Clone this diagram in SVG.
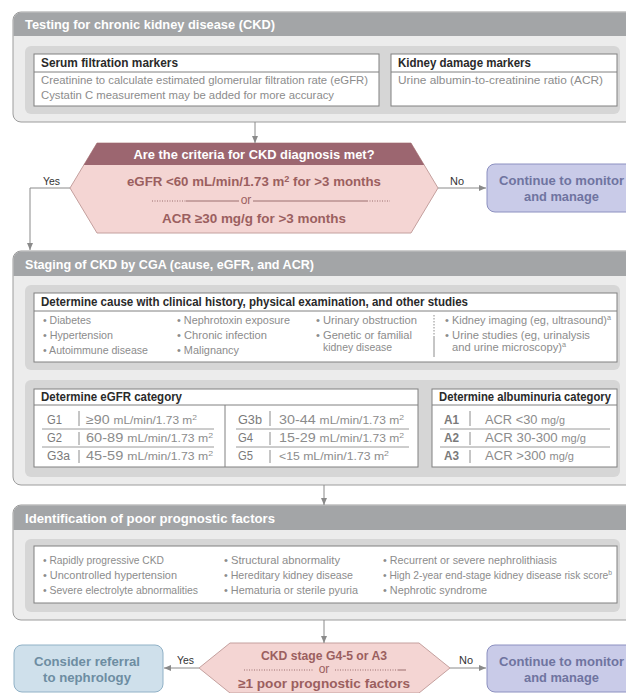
<svg xmlns="http://www.w3.org/2000/svg" width="626" height="693" viewBox="0 0 626 693">
<defs>
<marker id="ah" markerUnits="userSpaceOnUse" markerWidth="7" markerHeight="6" refX="7" refY="3" orient="auto"><path d="M0,0 L7,3 L0,6 z" fill="#8a8a8a"/></marker>
</defs>
<style>
text{font-family:"Liberation Sans","DejaVu Sans Condensed",Arial,sans-serif}
.outer{fill:#ececec;stroke:#9c9c9c;stroke-width:1}
.hdr{fill:#a3a5a7}
.ttl{fill:#fff;font-weight:bold;font-size:13.5px}
.panel{fill:#d6d6d6}
.wbox{fill:#fff;stroke:#808080;stroke-width:1}
.hl{stroke:#808080;stroke-width:1}
.bh{fill:#2a2a2a;font-weight:bold;font-size:12px}
.it{fill:#8c8c8c;font-size:11.5px}
.lab{fill:#7a7a7a;font-size:12.5px}
.val{fill:#8c8c8c;font-size:12.5px}
.sm{font-size:10.5px}
.sep{stroke:#8c8c8c;stroke-width:1}
.rl{stroke:#9a9a9a;stroke-width:1}
.con{stroke:#8a8a8a;stroke-width:1;fill:none}
.cl{fill:#333;font-size:11.5px}
.dia{fill:#f4d5d3;stroke:#c4a09e;stroke-width:1}
.dhdr{fill:#9c6670}
.dht{fill:#fff;font-weight:bold;font-size:13px}
.dt{fill:#9b5f5f;font-weight:bold;font-size:13px}
.ort{fill:#9b5f5f;font-size:12px}
.dot{stroke:#9b6f6f;stroke-width:1;stroke-dasharray:1,1.5}
.sol{stroke:#9b6f6f;stroke-width:1}
.cont{fill:#c9cbe8;stroke:#8c90c0;stroke-width:1}
.contt{fill:#6f74a0;font-weight:bold;font-size:13.5px}
.ref{fill:#cfe0eb;stroke:#90b1c6;stroke-width:1}
.reft{fill:#6d8da2;font-weight:bold;font-size:13.5px}
</style>

<g id="testing">
<rect class="outer" x="13" y="12" width="660" height="110" rx="8"/>
<path class="hdr" d="M13.5,36 V20 a7.5,7.5 0 0 1 7.5,-7.5 H660 V36 Z"/>
<text class="ttl" x="25" y="29" textLength="250" lengthAdjust="spacingAndGlyphs">Testing for chronic kidney disease (CKD)</text>
<rect class="panel" x="25" y="46" width="595" height="68" rx="6"/>
<g id="serum">
<rect class="wbox" x="34" y="54" width="345" height="52"/>
<line class="hl" x1="34" y1="72" x2="379" y2="72"/>
<text class="bh" x="41" y="67" textLength="137" lengthAdjust="spacingAndGlyphs">Serum filtration markers</text>
<text class="it" x="41" y="84" textLength="327" lengthAdjust="spacingAndGlyphs">Creatinine to calculate estimated glomerular filtration rate (eGFR)</text>
<text class="it" x="41" y="99" textLength="293" lengthAdjust="spacingAndGlyphs">Cystatin C measurement may be added for more accuracy</text>
</g>
<g id="damage">
<rect class="wbox" x="391" y="54" width="226" height="52"/>
<line class="hl" x1="391" y1="72" x2="617" y2="72"/>
<text class="bh" x="398" y="67" textLength="133" lengthAdjust="spacingAndGlyphs">Kidney damage markers</text>
<text class="it" x="398" y="84" textLength="205" lengthAdjust="spacingAndGlyphs">Urine albumin-to-creatinine ratio (ACR)</text>
</g>
</g>

<g id="criteria">
<polygon class="dia" points="97,143 411,143 438,188 411,233 97,233 70,188"/>
<polygon class="dhdr" points="97,143 411,143 424.2,165 83.8,165"/>
<text class="dht" x="254" y="159" text-anchor="middle" textLength="241" lengthAdjust="spacingAndGlyphs">Are the criteria for CKD diagnosis met?</text>
<text class="dt" x="254" y="186" text-anchor="middle" textLength="254" lengthAdjust="spacingAndGlyphs">eGFR &lt;60 mL/min/1.73 m<tspan font-size="9" dy="-4">2</tspan><tspan dy="4"> for &gt;3 months</tspan></text>
<line class="dot" x1="152" y1="201" x2="186" y2="201"/>
<line class="sol" x1="186" y1="201" x2="239" y2="201"/>
<text class="ort" x="246" y="204" text-anchor="middle">or</text>
<line class="sol" x1="253" y1="201" x2="367" y2="201"/>
<line class="dot" x1="367" y1="201" x2="390" y2="201"/>
<text class="dt" x="254" y="223" text-anchor="middle" textLength="184" lengthAdjust="spacingAndGlyphs">ACR ≥30 mg/g for &gt;3 months</text>
</g>

<g id="monitor1">
<rect class="cont" x="487" y="164" width="150" height="48" rx="8"/>
<text class="contt" x="561.5" y="185" text-anchor="middle" textLength="125" lengthAdjust="spacingAndGlyphs">Continue to monitor</text>
<text class="contt" x="561.5" y="201" text-anchor="middle" textLength="75" lengthAdjust="spacingAndGlyphs">and manage</text>
</g>

<g id="staging">
<rect class="outer" x="13" y="251" width="660" height="234" rx="8"/>
<path class="hdr" d="M13.5,276 V259 a7.5,7.5 0 0 1 7.5,-7.5 H660 V276 Z"/>
<text class="ttl" x="25" y="269" textLength="289" lengthAdjust="spacingAndGlyphs">Staging of CKD by CGA (cause, eGFR, and ACR)</text>
<rect class="panel" x="25" y="285" width="595" height="85" rx="6"/>
<g id="cause">
<rect class="wbox" x="34" y="293" width="583" height="69"/>
<line class="hl" x1="34" y1="311" x2="617" y2="311"/>
<text class="bh" x="41" y="306" textLength="427" lengthAdjust="spacingAndGlyphs">Determine cause with clinical history, physical examination, and other studies</text>
<text class="it" x="43" y="324" textLength="48" lengthAdjust="spacingAndGlyphs">• Diabetes</text>
<text class="it" x="43" y="339" textLength="70" lengthAdjust="spacingAndGlyphs">• Hypertension</text>
<text class="it" x="43" y="354" textLength="105" lengthAdjust="spacingAndGlyphs">• Autoimmune disease</text>
<text class="it" x="177" y="324" textLength="113" lengthAdjust="spacingAndGlyphs">• Nephrotoxin exposure</text>
<text class="it" x="177" y="339" textLength="90" lengthAdjust="spacingAndGlyphs">• Chronic infection</text>
<text class="it" x="177" y="354" textLength="62" lengthAdjust="spacingAndGlyphs">• Malignancy</text>
<text class="it" x="316" y="324" textLength="101" lengthAdjust="spacingAndGlyphs">• Urinary obstruction</text>
<text class="it" x="316" y="339" textLength="96" lengthAdjust="spacingAndGlyphs">• Genetic or familial</text>
<text class="it" x="323" y="351" textLength="69" lengthAdjust="spacingAndGlyphs">kidney disease</text>
<line class="sep" x1="434" y1="315" x2="434" y2="336" stroke-dasharray="1.5,1.5"/>
<line class="sep" x1="434" y1="336" x2="434" y2="357"/>
<text class="it" x="445" y="324" textLength="166" lengthAdjust="spacingAndGlyphs">• Kidney imaging (eg, ultrasound)<tspan font-size="7.5" dy="-4">a</tspan></text>
<text class="it" x="445" y="339" textLength="145" lengthAdjust="spacingAndGlyphs">• Urine studies (eg, urinalysis</text>
<text class="it" x="452" y="351" textLength="114" lengthAdjust="spacingAndGlyphs">and urine microscopy)<tspan font-size="7.5" dy="-4">a</tspan></text>
</g>
<rect class="panel" x="25" y="380" width="595" height="97" rx="6"/>
<g id="egfr">
<rect class="wbox" x="34" y="389" width="384" height="78"/>
<line class="hl" x1="34" y1="405" x2="418" y2="405"/>
<line class="hl" x1="225" y1="405" x2="225" y2="467"/>
<text class="bh" x="41" y="401" textLength="141" lengthAdjust="spacingAndGlyphs">Determine eGFR category</text>
<line class="rl" x1="42" y1="429" x2="214" y2="429"/>
<line class="rl" x1="42" y1="447" x2="214" y2="447"/>
<line class="rl" x1="236" y1="429" x2="409" y2="429"/>
<line class="rl" x1="236" y1="447" x2="409" y2="447"/>
<line class="sep" x1="79" y1="411" x2="79" y2="426"/>
<line class="sep" x1="79" y1="432" x2="79" y2="445"/>
<line class="sep" x1="79" y1="450" x2="79" y2="463"/>
<line class="sep" x1="270" y1="411" x2="270" y2="426"/>
<line class="sep" x1="270" y1="432" x2="270" y2="445"/>
<line class="sep" x1="270" y1="450" x2="270" y2="463"/>
<text class="lab" x="47" y="424" textLength="15" lengthAdjust="spacingAndGlyphs">G1</text>
<text class="lab" x="47" y="442" textLength="15" lengthAdjust="spacingAndGlyphs">G2</text>
<text class="lab" x="47" y="460" textLength="23" lengthAdjust="spacingAndGlyphs">G3a</text>
<text class="val" x="86" y="424" textLength="111" lengthAdjust="spacingAndGlyphs">≥90 <tspan class="sm">mL/min/1.73 m<tspan font-size="7.5" dy="-4">2</tspan></tspan></text>
<text class="val" x="86" y="442" textLength="127" lengthAdjust="spacingAndGlyphs">60-89 <tspan class="sm">mL/min/1.73 m<tspan font-size="7.5" dy="-4">2</tspan></tspan></text>
<text class="val" x="86" y="460" textLength="127" lengthAdjust="spacingAndGlyphs">45-59 <tspan class="sm">mL/min/1.73 m<tspan font-size="7.5" dy="-4">2</tspan></tspan></text>
<text class="lab" x="238" y="424" textLength="24" lengthAdjust="spacingAndGlyphs">G3b</text>
<text class="lab" x="238" y="442" textLength="15" lengthAdjust="spacingAndGlyphs">G4</text>
<text class="lab" x="238" y="460" textLength="15" lengthAdjust="spacingAndGlyphs">G5</text>
<text class="val" x="279" y="424" textLength="125" lengthAdjust="spacingAndGlyphs">30-44 <tspan class="sm">mL/min/1.73 m<tspan font-size="7.5" dy="-4">2</tspan></tspan></text>
<text class="val" x="279" y="442" textLength="125" lengthAdjust="spacingAndGlyphs">15-29 <tspan class="sm">mL/min/1.73 m<tspan font-size="7.5" dy="-4">2</tspan></tspan></text>
<text class="val" x="279" y="460" textLength="110" lengthAdjust="spacingAndGlyphs"><tspan class="sm">&lt;15 mL/min/1.73 m<tspan font-size="7.5" dy="-4">2</tspan></tspan></text>
</g>
<g id="albuminuria">
<rect class="wbox" x="432" y="389" width="185" height="78"/>
<line class="hl" x1="432" y1="405" x2="617" y2="405"/>
<text class="bh" x="439" y="401" textLength="172" lengthAdjust="spacingAndGlyphs">Determine albuminuria category</text>
<line class="rl" x1="440" y1="429" x2="610" y2="429"/>
<line class="rl" x1="440" y1="447" x2="610" y2="447"/>
<line class="sep" x1="470" y1="411" x2="470" y2="426"/>
<line class="sep" x1="470" y1="432" x2="470" y2="445"/>
<line class="sep" x1="470" y1="450" x2="470" y2="463"/>
<text class="lab" x="444" y="424" font-weight="bold" textLength="15" lengthAdjust="spacingAndGlyphs">A1</text>
<text class="lab" x="444" y="442" font-weight="bold" textLength="15" lengthAdjust="spacingAndGlyphs">A2</text>
<text class="lab" x="444" y="460" font-weight="bold" textLength="15" lengthAdjust="spacingAndGlyphs">A3</text>
<text class="val" x="485" y="424" textLength="80" lengthAdjust="spacingAndGlyphs">ACR &lt;30 <tspan class="sm">mg/g</tspan></text>
<text class="val" x="485" y="442" textLength="101" lengthAdjust="spacingAndGlyphs">ACR 30-300 <tspan class="sm">mg/g</tspan></text>
<text class="val" x="485" y="460" textLength="89" lengthAdjust="spacingAndGlyphs">ACR &gt;300 <tspan class="sm">mg/g</tspan></text>
</g>
</g>

<g id="prognostic">
<rect class="outer" x="13" y="505" width="660" height="115" rx="8"/>
<path class="hdr" d="M13.5,530 V513 a7.5,7.5 0 0 1 7.5,-7.5 H660 V530 Z"/>
<text class="ttl" x="25" y="523" textLength="250" lengthAdjust="spacingAndGlyphs">Identification of poor prognostic factors</text>
<rect class="panel" x="25" y="539" width="595" height="73" rx="6"/>
<rect class="wbox" x="34" y="546" width="583" height="57"/>
<text class="it" x="43" y="564" textLength="121" lengthAdjust="spacingAndGlyphs">• Rapidly progressive CKD</text>
<text class="it" x="43" y="579" textLength="134" lengthAdjust="spacingAndGlyphs">• Uncontrolled hypertension</text>
<text class="it" x="43" y="594" textLength="155" lengthAdjust="spacingAndGlyphs">• Severe electrolyte abnormalities</text>
<text class="it" x="224" y="564" textLength="116" lengthAdjust="spacingAndGlyphs">• Structural abnormality</text>
<text class="it" x="224" y="579" textLength="129" lengthAdjust="spacingAndGlyphs">• Hereditary kidney disease</text>
<text class="it" x="224" y="594" textLength="134" lengthAdjust="spacingAndGlyphs">• Hematuria or sterile pyuria</text>
<text class="it" x="383" y="564" textLength="174" lengthAdjust="spacingAndGlyphs">• Recurrent or severe nephrolithiasis</text>
<text class="it" x="383" y="579" textLength="229" lengthAdjust="spacingAndGlyphs">• High 2-year end-stage kidney disease risk score<tspan font-size="7.5" dy="-4">b</tspan></text>
<text class="it" x="383" y="594" textLength="104" lengthAdjust="spacingAndGlyphs">• Nephrotic syndrome</text>
</g>

<g id="stage">
<polygon class="dia" points="230,643 419,643 450,668 419,693 230,693 199,668"/>
<text class="dt" x="324" y="660" text-anchor="middle" textLength="126" lengthAdjust="spacingAndGlyphs">CKD stage G4-5 or A3</text>
<line class="dot" x1="244" y1="670" x2="313" y2="670"/>
<text class="ort" x="324" y="673" text-anchor="middle">or</text>
<line class="dot" x1="335" y1="670" x2="398" y2="670"/>
<line class="sol" x1="398" y1="670" x2="406" y2="670"/>
<text class="dt" x="324" y="688" text-anchor="middle" textLength="172" lengthAdjust="spacingAndGlyphs">≥1 poor prognostic factors</text>
</g>

<g id="referral">
<rect class="ref" x="14" y="645" width="149" height="47" rx="8"/>
<text class="reft" x="87" y="666" text-anchor="middle" textLength="106" lengthAdjust="spacingAndGlyphs">Consider referral</text>
<text class="reft" x="87" y="682" text-anchor="middle" textLength="88" lengthAdjust="spacingAndGlyphs">to nephrology</text>
</g>

<g id="monitor2">
<rect class="cont" x="487" y="645" width="150" height="47" rx="8"/>
<text class="contt" x="561.5" y="666" text-anchor="middle" textLength="125" lengthAdjust="spacingAndGlyphs">Continue to monitor</text>
<text class="contt" x="561.5" y="682" text-anchor="middle" textLength="75" lengthAdjust="spacingAndGlyphs">and manage</text>
</g>

<g id="connectors">
<line class="con" x1="255" y1="122" x2="255" y2="143" marker-end="url(#ah)"/>
<polyline class="con" points="70,188 30,188 30,250" marker-end="url(#ah)"/>
<text class="cl" x="43" y="185" textLength="17" lengthAdjust="spacingAndGlyphs">Yes</text>
<line class="con" x1="438" y1="188" x2="486" y2="188" marker-end="url(#ah)"/>
<text class="cl" x="450" y="185" textLength="14" lengthAdjust="spacingAndGlyphs">No</text>
<line class="con" x1="324" y1="485" x2="324" y2="505" marker-end="url(#ah)"/>
<line class="con" x1="324" y1="620" x2="324" y2="643" marker-end="url(#ah)"/>
<line class="con" x1="199" y1="668" x2="164" y2="668" marker-end="url(#ah)"/>
<text class="cl" x="177" y="664" textLength="17" lengthAdjust="spacingAndGlyphs">Yes</text>
<line class="con" x1="450" y1="668" x2="486" y2="668" marker-end="url(#ah)"/>
<text class="cl" x="459" y="664" textLength="14" lengthAdjust="spacingAndGlyphs">No</text>
</g>
</svg>
